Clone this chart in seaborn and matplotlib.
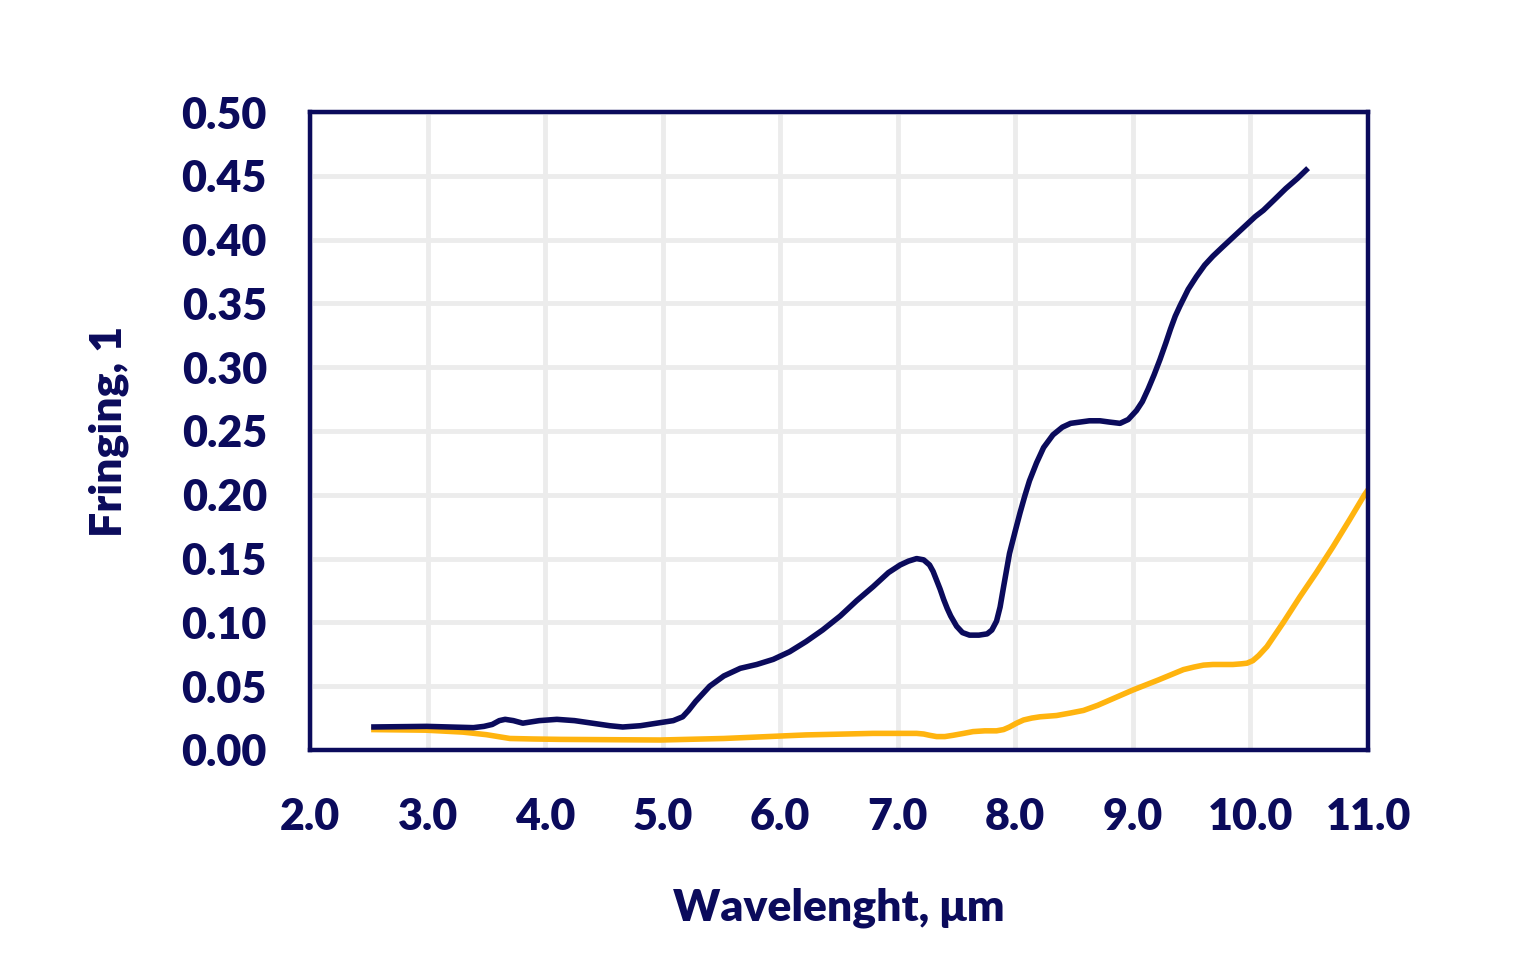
import matplotlib
matplotlib.use('Agg')
import matplotlib.pyplot as plt
import pandas as pd
import seaborn as sns

# 데이터
wl_dark = [2.52, 2.99, 3.39, 3.48, 3.55, 3.61, 3.66, 3.73, 3.81, 3.95, 4.10,
           4.25, 4.40, 4.55, 4.66, 4.81, 4.95, 5.09, 5.17, 5.22, 5.28, 5.34,
           5.40, 5.46, 5.52, 5.59, 5.66, 5.80, 5.94, 6.08, 6.22, 6.36, 6.51,
           6.65, 6.79, 6.92, 7.02, 7.09, 7.16, 7.22, 7.27, 7.30, 7.33, 7.36,
           7.39, 7.42, 7.45, 7.50, 7.55, 7.61, 7.69, 7.76, 7.80, 7.84, 7.87,
           7.90, 7.95, 8.00, 8.04, 8.08, 8.12, 8.18, 8.24, 8.32, 8.40, 8.47,
           8.55, 8.63, 8.72, 8.80, 8.89, 8.96, 9.03, 9.08, 9.13, 9.18, 9.23,
           9.28, 9.32, 9.36, 9.40, 9.47, 9.54, 9.61, 9.68, 9.76, 9.83, 9.90,
           9.97, 10.04, 10.11, 10.20, 10.30, 10.40, 10.49]
fr_dark = [0.018, 0.0185, 0.0175, 0.0185, 0.020, 0.023, 0.024, 0.023, 0.021,
           0.023, 0.024, 0.023, 0.021, 0.019, 0.018, 0.019, 0.021, 0.023,
           0.026, 0.031, 0.038, 0.044, 0.050, 0.054, 0.058, 0.061, 0.064,
           0.067, 0.071, 0.077, 0.085, 0.094, 0.105, 0.117, 0.128, 0.139,
           0.145, 0.148, 0.150, 0.149, 0.145, 0.140, 0.133, 0.126, 0.118,
           0.111, 0.105, 0.097, 0.092, 0.090, 0.090, 0.091, 0.094, 0.101,
           0.112, 0.128, 0.154, 0.172, 0.186, 0.199, 0.211, 0.225, 0.237,
           0.247, 0.253, 0.256, 0.257, 0.258, 0.258, 0.257, 0.256, 0.259,
           0.266, 0.273, 0.283, 0.294, 0.306, 0.319, 0.330, 0.340, 0.348,
           0.361, 0.371, 0.380, 0.387, 0.394, 0.400, 0.406, 0.412, 0.418,
           0.423, 0.431, 0.440, 0.448, 0.456]

wl_orange = [2.52, 2.99, 3.30, 3.50, 3.60, 3.70, 3.90, 4.13, 4.98, 5.52, 6.22,
             6.79, 7.16, 7.22, 7.27, 7.33, 7.40, 7.47, 7.56, 7.64, 7.74, 7.84,
             7.90, 7.95, 8.01, 8.07, 8.14, 8.21, 8.35, 8.47, 8.58, 8.70, 8.80,
             9.00, 9.22, 9.43, 9.52, 9.60, 9.68, 9.77, 9.85, 9.92, 9.97,
             10.02, 10.07, 10.14, 10.28, 10.42, 10.56, 10.70, 10.84, 10.97,
             11.0]
fr_orange = [0.016, 0.0155, 0.014, 0.012, 0.0105, 0.009, 0.0086, 0.0083,
             0.0078, 0.009, 0.0118, 0.013, 0.013, 0.0125, 0.0115, 0.0105,
             0.0105, 0.0115, 0.013, 0.0144, 0.015, 0.015, 0.016, 0.018,
             0.021, 0.0235, 0.025, 0.026, 0.027, 0.029, 0.031, 0.035, 0.039,
             0.047, 0.055, 0.063, 0.065, 0.0665, 0.067, 0.067, 0.067, 0.0675,
             0.068, 0.070, 0.074, 0.081, 0.100, 0.120, 0.139, 0.159, 0.180,
             0.200, 0.204]

x_ticks = [2.0, 3.0, 4.0, 5.0, 6.0, 7.0, 8.0, 9.0, 10.0, 11.0]
y_ticks = [0.00, 0.05, 0.10, 0.15, 0.20, 0.25, 0.30, 0.35, 0.40, 0.45, 0.50]

navy = '#0b0b5c'
orange = '#ffb40f'

sns.set_style('whitegrid')
plt.rcParams['font.family'] = ['Lato', 'DejaVu Sans']

df_dark = pd.DataFrame({'wl': wl_dark, 'fr': fr_dark})
df_orange = pd.DataFrame({'wl': wl_orange, 'fr': fr_orange})

fig = plt.figure(figsize=(15.16, 9.75), dpi=100)
ax = fig.add_axes([0.2045, 0.2308, 0.6979, 0.6543])

sns.lineplot(x='wl', y='fr', data=df_orange, color=orange, linewidth=4.0,
             solid_capstyle='butt', solid_joinstyle='round', ax=ax)
sns.lineplot(x='wl', y='fr', data=df_dark, color=navy, linewidth=4.0,
             solid_capstyle='butt', solid_joinstyle='round', ax=ax)

ax.set_xlim(2.0, 11.0)
ax.set_ylim(0.0, 0.5)
ax.set_xticks(x_ticks)
ax.set_yticks(y_ticks)
ax.set_xticklabels([f'{v:.1f}' for v in x_ticks])
ax.set_yticklabels([f'{v:.2f}' for v in y_ticks])

ax.grid(True, color='#ececec', linewidth=3.5)
for s in ax.spines.values():
    s.set_color(navy)
    s.set_linewidth(3.2)
    s.set_zorder(5)

ax.tick_params(axis='both', length=0, labelsize=31, labelcolor=navy)
ax.tick_params(axis='x', pad=34)
ax.tick_params(axis='y', pad=31)
for lab in ax.get_xticklabels() + ax.get_yticklabels():
    lab.set_fontweight('heavy')

ax.set_xlabel('Wavelenght, μm', fontsize=32, fontweight='heavy', color=navy, labelpad=36)
ax.set_ylabel('Fringing, 1', fontsize=32, fontweight='heavy', color=navy, labelpad=38)

fig.savefig('out.png', dpi=100, facecolor='white')
